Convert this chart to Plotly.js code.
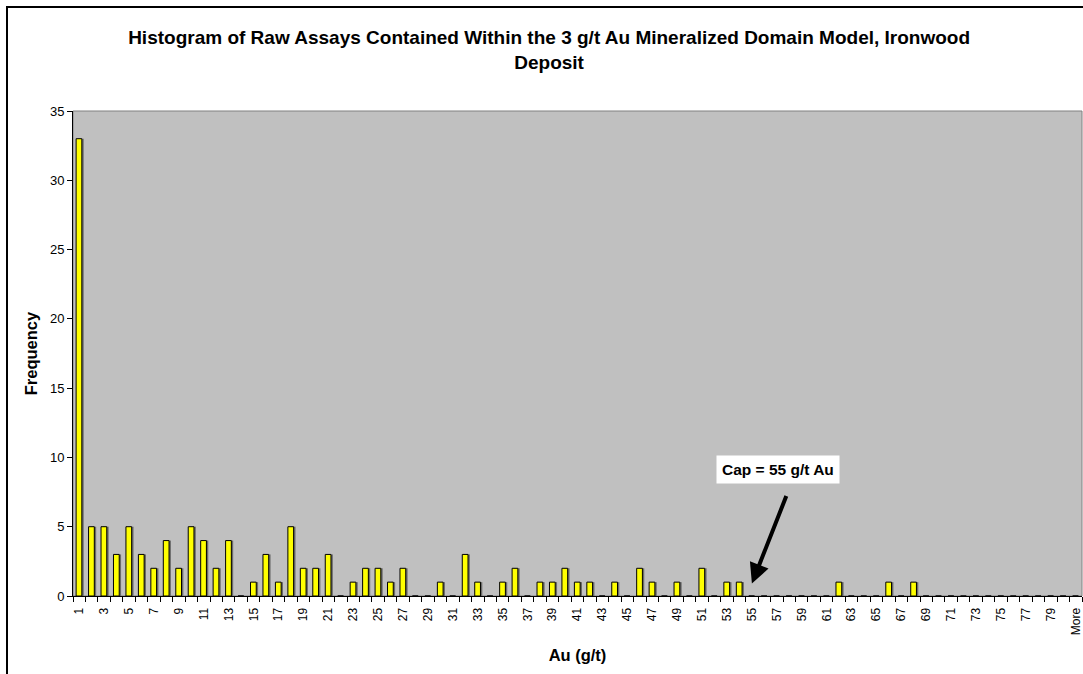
<!DOCTYPE html>
<html>
<head>
<meta charset="utf-8">
<script src="https://cdn.plot.ly/plotly-3.0.1.min.js"></script>
<style>
  html, body { margin: 0; padding: 0; background: #ffffff; }
  #chart { width: 1083px; height: 674px; position: relative; }
  #frame { position: absolute; left: 6px; top: 6px; width: 1100px; height: 700px;
           border-left: 2px solid #000; border-top: 2px solid #000; pointer-events: none; }
</style>
</head>
<body>
<div id="chart"></div>
<div id="frame"></div>
<script>
// Bin labels (Au g/t)
const categories = [];
for (let i = 1; i <= 80; i++) categories.push(String(i));
categories.push("More");

// Frequency per bin
const frequency = [
  33, 5, 5, 3, 5, 3, 2, 4, 2, 5,   // 1-10
  4, 2, 4, 0, 1, 3, 1, 5, 2, 2,    // 11-20
  3, 0, 1, 2, 2, 1, 2, 0, 0, 1,    // 21-30
  0, 3, 1, 0, 1, 2, 0, 1, 1, 2,    // 31-40
  1, 1, 0, 1, 0, 2, 1, 0, 1, 0,    // 41-50
  2, 0, 1, 1, 0, 0, 0, 0, 0, 0,    // 51-60
  0, 1, 0, 0, 0, 1, 0, 1, 0, 0,    // 61-70
  0, 0, 0, 0, 0, 0, 0, 0, 0, 0,    // 71-80
  0                                 // More
];

// Positions of the bins on the axis (1..81)
const binIndex = categories.map((c, i) => i + 1);
// Every other bin is labelled
const tickVals = binIndex.filter((v, i) => i % 2 === 0);
const tickText = categories.filter((c, i) => i % 2 === 0);

const FONT = "Liberation Sans, Arial, sans-serif";

const traces = [
  { // drop shadow of the bars
    type: "bar",
    x: binIndex,
    y: frequency,
    width: 0.46,
    offset: -0.1,
    marker: { color: "#6a6a6a", line: { width: 0 } },
    hoverinfo: "skip"
  },
  {
    type: "bar",
    x: binIndex,
    y: frequency,
    width: 0.46,
    offset: -0.25,
    marker: { color: "#FFFF00", line: { color: "#000000", width: 1 } },
    hoverinfo: "x+y"
  }
];

const layout = {
  width: 1083,
  height: 674,
  barmode: "overlay",
  margin: { l: 73, r: 1, t: 111, b: 78, pad: 0 },
  paper_bgcolor: "#ffffff",
  plot_bgcolor: "#C0C0C0",
  showlegend: false,
  font: { family: FONT, color: "#000000", size: 12 },
  title: {
    text: "Histogram of Raw Assays Contained Within the 3 g/t Au Mineralized Domain Model, Ironwood<br>Deposit",
    font: { family: FONT, size: 19, weight: "bold", color: "#000" },
    x: 0.507, xref: "container", xanchor: "center",
    y: 0.935, yref: "container", yanchor: "middle"
  },
  xaxis: {
    range: [0.5, 81.5],
    tickmode: "array",
    tickvals: tickVals,
    ticktext: tickText,
    tickangle: -90,
    ticks: "",
    ticklabelstandoff: 6,
    tickfont: { family: FONT, size: 12 },
    minor: { tickmode: "linear", tick0: 0.5, dtick: 1, ticks: "outside", ticklen: 5, tickcolor: "#000", tickwidth: 1, showgrid: false },
    showline: true, linecolor: "#000", linewidth: 1,
    showgrid: false, zeroline: false,
    title: { text: "Au (g/t)", font: { family: FONT, size: 16.5, weight: "bold" }, standoff: 15 },
    automargin: false
  },
  yaxis: {
    range: [0, 35],
    dtick: 5,
    ticks: "outside", ticklen: 5, tickcolor: "#000",
    tickfont: { family: FONT, size: 13 },
    showline: true, linecolor: "#000", linewidth: 1,
    showgrid: false, zeroline: false,
    title: { text: "Frequency", font: { family: FONT, size: 16.5, weight: "bold" }, standoff: 8 },
    automargin: false
  },
  shapes: [{
    type: "rect", xref: "paper", yref: "paper", x0: 0, x1: 1, y0: 0, y1: 1,
    line: { color: "#808080", width: 1 }, layer: "below"
  }],
  annotations: [
    {
      x: 57.1, y: 9.15, xref: "x", yref: "y",
      text: "<b>Cap = 55 g/t Au</b>",
      showarrow: false,
      bgcolor: "#ffffff",
      borderpad: 5,
      font: { family: FONT, size: 15.5, color: "#000" }
    },
    {
      x: 55, y: 0.9, xref: "x", yref: "y",
      ax: 35, ay: -89, axref: "pixel", ayref: "pixel",
      text: "",
      showarrow: true,
      arrowhead: 2, arrowsize: 1, arrowwidth: 4, arrowcolor: "#000"
    }
  ]
};

Plotly.newPlot("chart", traces, layout, { displayModeBar: false, staticPlot: true });
</script>
</body>
</html>
